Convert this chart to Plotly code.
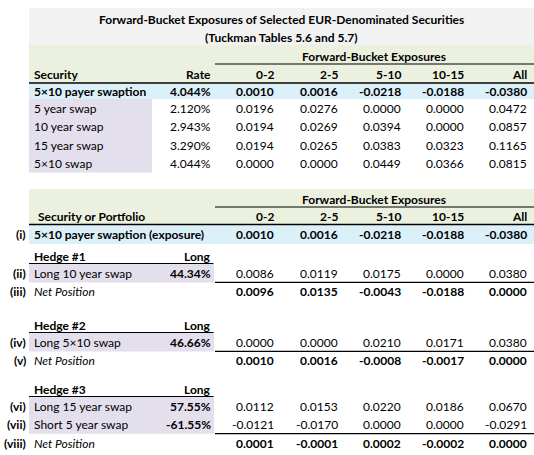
import plotly.graph_objects as go

# ---------------- data ----------------
title_lines = ["Forward-Bucket Exposures of Selected EUR-Denominated Securities",
               "(Tuckman Tables 5.6 and 5.7)"]
group_header = "Forward-Bucket Exposures"
buckets = ["0-2", "2-5", "5-10", "10-15", "All"]

t1_securities = ["5×10 payer swaption", "5 year swap", "10 year swap", "15 year swap", "5×10 swap"]
t1_rates = ["4.044%", "2.120%", "2.943%", "3.290%", "4.044%"]
t1_values = [
    [0.0010, 0.0016, -0.0218, -0.0188, -0.0380],
    [0.0196, 0.0276, 0.0000, 0.0000, 0.0472],
    [0.0194, 0.0269, 0.0394, 0.0000, 0.0857],
    [0.0194, 0.0265, 0.0383, 0.0323, 0.1165],
    [0.0000, 0.0000, 0.0449, 0.0366, 0.0815],
]

t2_exposure_label = "5×10 payer swaption (exposure)"
t2_exposure_values = [0.0010, 0.0016, -0.0218, -0.0188, -0.0380]

hedge_titles = ["Hedge #1", "Hedge #2", "Hedge #3"]
hedge_rows = [
    [("(ii)", "Long 10 year swap", "44.34%", [0.0086, 0.0119, 0.0175, 0.0000, 0.0380])],
    [("(iv)", "Long 5×10 swap", "46.66%", [0.0000, 0.0000, 0.0210, 0.0171, 0.0380])],
    [("(vi)", "Long 15 year swap", "57.55%", [0.0112, 0.0153, 0.0220, 0.0186, 0.0670]),
     ("(vii)", "Short 5 year swap", "-61.55%", [-0.0121, -0.0170, 0.0000, 0.0000, -0.0291])],
]
net_labels = ["(iii)", "(v)", "(viii)"]
net_values = [
    [0.0096, 0.0135, -0.0043, -0.0188, 0.0000],
    [0.0010, 0.0016, -0.0008, -0.0017, 0.0000],
    [0.0001, -0.0001, 0.0002, -0.0002, 0.0000],
]

# ---------------- layout constants ----------------
W, H = 534, 455
FONT = "Lato, 'Open Sans', sans-serif"
FS = 12
TXT = "#000000"
C_TITLE = "#f2f2f2"
C_GREEN = "#ebf1de"
C_BLUE = "#dcf0fa"
C_LAV = "#e4dfec"

X_LEFT = 29
X_RIGHT = 534
X_LABEL = 32
X_ROMAN = 27.5
X_RATE = 213
X_COLS = [276, 339.5, 403, 466, 529]
X_DATA_LEFT = 214

shapes = []
annotations = []


def rect(x0, x1, y0, y1, color):
    shapes.append(dict(type="rect", xref="x", yref="y", x0=x0, x1=x1, y0=y0, y1=y1,
                       fillcolor=color, line=dict(width=0), layer="below"))


def hline(x0, x1, y, w=1.2):
    shapes.append(dict(type="line", xref="x", yref="y", x0=x0, x1=x1, y0=y, y1=y,
                       line=dict(color="#000000", width=w)))


def text(x, y, s, anchor="right", bold=False, italic=False, size=FS):
    if bold:
        s = "<b>%s</b>" % s
    if italic:
        s = "<i>%s</i>" % s
    annotations.append(dict(x=x, y=y, xref="x", yref="y", text=s, showarrow=False,
                            xanchor=anchor, yanchor="middle",
                            font=dict(family=FONT, size=size, color=TXT)))


def fmt(v):
    s = "%.4f" % v
    if s == "-0.0000":
        s = "0.0000"
    return s


# ---------------- Table 1 ----------------
rect(X_LEFT, X_RIGHT, 8, 45, C_TITLE)
text((X_LEFT + X_RIGHT) / 2, 19, title_lines[0], anchor="center", bold=True)
text((X_LEFT + X_RIGHT) / 2, 37, title_lines[1], anchor="center", bold=True)

rect(X_LEFT, X_RIGHT, 45, 83, C_GREEN)
text((X_DATA_LEFT + X_RIGHT) / 2, 56, group_header, anchor="center", bold=True)
hline(X_DATA_LEFT + 1, X_RIGHT, 64)
text(X_LABEL, 74, "Security", anchor="left", bold=True)
text(X_RATE, 74, "Rate", bold=True)
for xc, b in zip(X_COLS, buckets):
    text(xc, 74, b, bold=True)
hline(X_LEFT, X_RIGHT, 83, 1.5)

row_y1 = [91.5, 108, 126.5, 145, 163.5]
rect(X_LEFT, X_RIGHT, 83.8, 99, C_BLUE)
rect(X_LEFT, 152, 99, 172.5, C_LAV)
for i, (sec, rate, vals) in enumerate(zip(t1_securities, t1_rates, t1_values)):
    bold = (i == 0)
    y = row_y1[i]
    text(X_LABEL, y, sec, anchor="left", bold=bold)
    text(X_RATE, y, rate, bold=bold)
    for xc, v in zip(X_COLS, vals):
        text(xc, y, fmt(v), bold=bold)

# ---------------- Table 2 ----------------
rect(X_LEFT, X_RIGHT, 189, 224, C_GREEN)
text((X_DATA_LEFT + X_RIGHT) / 2, 199, group_header, anchor="center", bold=True)
hline(X_DATA_LEFT + 1, X_RIGHT, 207)
text(X_LABEL + 4, 216, "Security or Portfolio", anchor="left", bold=True)
for xc, b in zip(X_COLS, buckets):
    text(xc, 216, b, bold=True)
hline(X_LEFT, X_RIGHT, 224.5, 1.5)

rect(X_LEFT, X_RIGHT, 225.3, 244, C_BLUE)
text(X_ROMAN, 234.5, "(i)", bold=True)
text(X_LABEL, 234.5, t2_exposure_label, anchor="left", bold=True)
for xc, v in zip(X_COLS, t2_exposure_values):
    text(xc, 234.5, fmt(v), bold=True)

hedge_title_y = [256, 325, 389]
ROW_H = 18.3
for h, (title, rows, nlabel, nvals) in enumerate(zip(hedge_titles, hedge_rows, net_labels, net_values)):
    ty = hedge_title_y[h]
    text(X_LABEL, ty, title, anchor="left", bold=True)
    text(X_RATE, ty, "Long", bold=True)
    line_y = ty + 7.5
    hline(X_LEFT, X_RATE + 0.5, line_y)
    top = line_y + 0.6
    bottom = top + ROW_H * len(rows)
    rect(X_LEFT, X_DATA_LEFT, top, bottom, C_LAV)
    for r, (roman, label, pct, vals) in enumerate(rows):
        y = top + ROW_H * r + ROW_H / 2
        text(X_ROMAN, y, roman, bold=True)
        text(X_LABEL, y, label, anchor="left")
        text(X_RATE, y, pct, bold=True)
        for xc, v in zip(X_COLS, vals):
            text(xc, y, fmt(v))
    hline(X_DATA_LEFT + 1, X_RIGHT, bottom)
    ny = bottom + ROW_H / 2 + 0.3
    text(X_ROMAN, ny, nlabel, bold=True)
    text(X_LABEL, ny, "Net Position", anchor="left", italic=True)
    for xc, v in zip(X_COLS, nvals):
        text(xc, ny, fmt(v), bold=True)

fig = go.Figure()
fig.update_layout(
    width=W, height=H,
    margin=dict(l=0, r=0, t=0, b=0),
    paper_bgcolor="white", plot_bgcolor="white",
    xaxis=dict(range=[0, W], visible=False, fixedrange=True),
    yaxis=dict(range=[H, 0], visible=False, fixedrange=True),
    shapes=shapes, annotations=annotations,
    showlegend=False,
)
fig.write_html("out.html", config={"displayModeBar": False},
               post_script="document.body.style.margin='0';document.body.style.padding='0';")
